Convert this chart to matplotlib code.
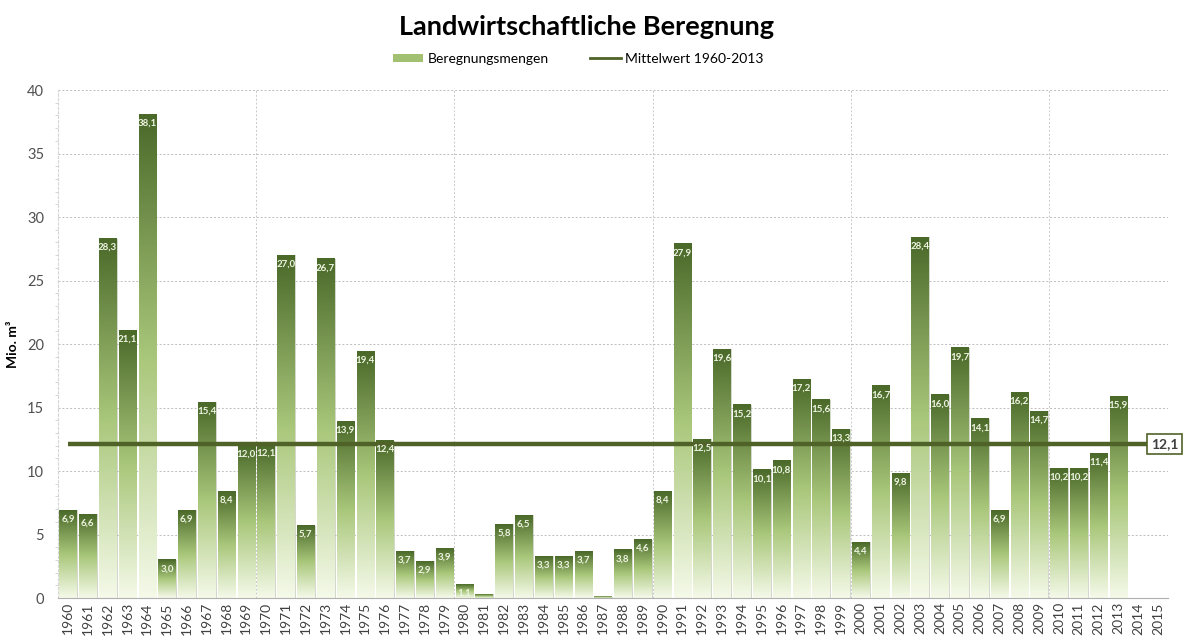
import numpy as np
import matplotlib
matplotlib.use("Agg")
import matplotlib.pyplot as plt
from matplotlib.colors import LinearSegmentedColormap
from matplotlib.patches import Patch
from matplotlib.lines import Line2D

plt.rcParams['font.family'] = ['Lato', 'DejaVu Sans']

years = list(range(1960, 2016))
values = [6.9, 6.6, 28.3, 21.1, 38.1, 3.0, 6.9, 15.4, 8.4, 12.0,
          12.1, 27.0, 5.7, 26.7, 13.9, 19.4, 12.4, 3.7, 2.9, 3.9,
          1.1, 0.3, 5.8, 6.5, 3.3, 3.3, 3.7, 0.1, 3.8, 4.6,
          8.4, 27.9, 12.5, 19.6, 15.2, 10.1, 10.8, 17.2, 15.6, 13.3,
          4.4, 16.7, 9.8, 28.4, 16.0, 19.7, 14.1, 6.9, 16.2, 14.7,
          10.2, 10.2, 11.4, 15.9]
mean_value = 12.1

dark = "#4f6228"
cmap = LinearSegmentedColormap.from_list("grn", ["#f4f9e8", "#a9c77a", "#4b6a2a"])
grad = np.linspace(0, 1, 100).reshape(-1, 1)

fig = plt.figure(figsize=(11.87, 6.37), dpi=100)
ax = fig.add_axes([0.0489, 0.0612, 0.935, 0.7975])

x = np.arange(len(years))
bw = 0.88
bars = ax.bar(x[:len(values)], values, width=bw, color="none",
              edgecolor="none", zorder=3)
for b, v in zip(bars, values):
    x0 = b.get_x()
    # light shadow on the right side of each bar
    ax.fill_between([x0 + bw, x0 + bw + 0.06], 0, v, color="#d4d8cc",
                    lw=0, zorder=1.5)
    ax.imshow(grad, extent=(x0, x0 + bw, 0, v), origin="lower",
              cmap=cmap, aspect="auto", zorder=2, interpolation="bicubic")
    if v >= 1.0:
        ax.text(x0 + bw / 2, v - 0.35, f"{v:.1f}".replace(".", ","),
                ha="center", va="top", color="#eef4e2", fontsize=7,
                fontweight="bold", zorder=5)

ax.plot([x[0], x[-1]], [mean_value, mean_value], color=dark, lw=3.2,
        zorder=4, solid_capstyle="butt", clip_on=False)
ax.text(0.997, mean_value, "12,1", transform=ax.get_yaxis_transform(),
        ha="center", va="center", fontsize=10, fontweight="bold",
        color="#404040", zorder=6,
        bbox=dict(boxstyle="square,pad=0.28", fc="white", ec=dark, lw=1.2))

ax.set_xlim(-0.5, len(years) - 0.5)
ax.set_ylim(0, 40)
ax.set_xticks(x)
ax.set_xticklabels([str(y) for y in years], rotation=90, fontsize=10,
                   color="#404040")
ax.set_yticks(range(0, 41, 5))
ax.set_yticks(range(0, 41, 1), minor=True)
ax.tick_params(axis="y", labelsize=10.5, labelcolor="#505050", length=0,
               pad=10)
ax.tick_params(axis="y", which="minor", length=2, color="#d0d0d0")
ax.tick_params(axis="x", length=0, pad=3)
ax.set_ylabel("Mio. m³", fontsize=10, fontweight="bold", labelpad=6)

ax.grid(axis="y", color="#bdbdbd", linestyle=(0, (2, 2)), lw=0.7, zorder=0)
for gx in [9.5, 19.5, 29.5, 39.5, 49.5]:
    ax.axvline(gx, color="#c8c8c8", linestyle=(0, (2, 2)), lw=0.7, zorder=0)

for s in ["top", "right"]:
    ax.spines[s].set_visible(False)
ax.spines["left"].set_color("#d5d5d5")
ax.spines["left"].set_linestyle((0, (2, 2)))
ax.spines["bottom"].set_color("#b0b0b0")

fig.text(0.494, 0.958, "Landwirtschaftliche Beregnung", ha="center",
         va="center", fontsize=19.5, fontweight="bold")
handles = [Patch(facecolor="#a2c072", edgecolor="none"),
           Line2D([0], [0], color=dark, lw=2)]
fig.legend(handles, ["Beregnungsmengen", "Mittelwert 1960-2013"],
           loc="center", bbox_to_anchor=(0.487, 0.908), ncol=2, frameon=False,
           fontsize=10, handlelength=2.2, handleheight=0.5, columnspacing=3,
           handletextpad=0.3)

fig.savefig("out.png", dpi=100)
